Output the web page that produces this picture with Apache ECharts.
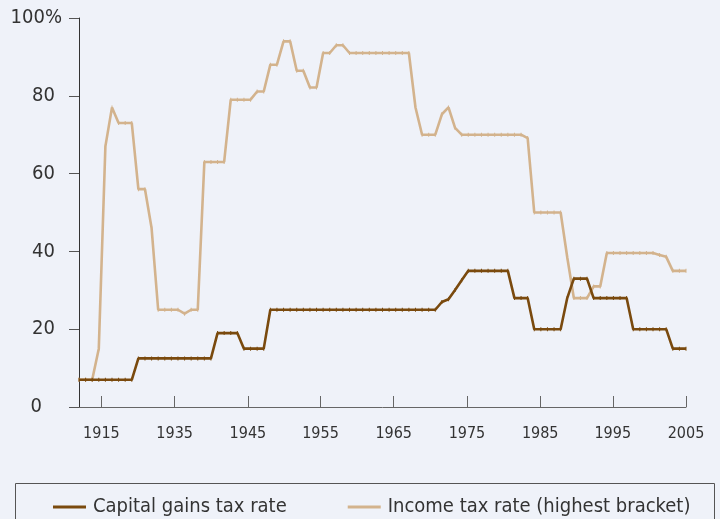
<!DOCTYPE html>
<html>
<head>
<meta charset="utf-8">
<script src="https://cdn.jsdelivr.net/npm/echarts@6/dist/echarts.min.js"></script>
<style>
html,body{margin:0;padding:0;background:#eff2f9;}
#chart{width:720px;height:519px;}
</style>
</head>
<body>
<div id="chart"></div>
<script>
var years = [];
for (var y = 1913; y <= 2005; y++) years.push(y);

var capitalGains = [
  7,7,7,7,7,7,7,7,7,
  12.5,12.5,12.5,12.5,12.5,12.5,12.5,12.5,12.5,12.5,12.5,12.5,
  19,19,19,19,
  15,15,15,15,
  25,25,25,25,25,25,25,25,25,25,25,25,25,25,25,25,25,25,25,25,25,25,25,25,25,25,
  27,27.7,30.1,32.6,
  35,35,35,35,35,35,35,
  28,28,28,
  20,20,20,20,20,
  28,33,33,33,
  28,28,28,28,28,28,
  20,20,20,20,20,20,
  15,15,15
];

var incomeTax = [
  7,7,7,15,67,77,73,73,73,56,56,46,
  25,25,25,25,24,25,25,
  63,63,63,63,
  79,79,79,79,
  81.1,81.1,88,88,94,94,86.45,86.45,82.13,82.13,91,91,93,93,
  91,91,91,91,91,91,91,91,91,91,
  77,70,70,70,75.25,77,71.75,
  70,70,70,70,70,70,70,70,70,70,
  69.13,
  50,50,50,50,50,
  38.5,28,28,28,31,31,
  39.6,39.6,39.6,39.6,39.6,39.6,39.6,39.6,
  39.1,38.6,35,35,35
];

var xTickLabels = ['1915','1935','1945','1955','1965','1975','1985','1995','2005'];
var xTickPositions = [1916.4,1927.5,1938.6,1949.6,1960.7,1971.8,1982.9,1993.9,2005];
var yTickLabels = ['0','20','40','60','80','100%'];

var FONT = '"DejaVu Sans Condensed","Liberation Sans Narrow",sans-serif';

function pairs(vals){
  return years.map(function(yr,i){ return [yr, vals[i]]; });
}

var chart = echarts.init(document.getElementById('chart'), null, {renderer:'canvas'});
chart.setOption({
  backgroundColor:'#eff2f9',
  animation:false,
  grid:{left:79, right:34, top:18, bottom:112},
  xAxis:{
    type:'value', min:1913, max:2005,
    splitLine:{show:false},
    axisLine:{show:true, lineStyle:{color:'#666', width:1}},
    axisTick:{show:true, inside:true, length:11, lineStyle:{color:'#666'}, customValues:xTickPositions},
    axisLabel:{
      customValues:xTickPositions,
      margin:19, fontSize:16, color:'#333', fontFamily:FONT,
      formatter:function(v){
        var best=0, d=1e9;
        for (var i=0;i<xTickPositions.length;i++){ var dd=Math.abs(xTickPositions[i]-v); if(dd<d){d=dd;best=i;} }
        return xTickLabels[best];
      }
    }
  },
  yAxis:{
    type:'value', min:0, max:100, interval:20,
    splitLine:{show:false},
    axisLine:{show:true, lineStyle:{color:'#333', width:1}},
    axisTick:{show:true, inside:false, length:10, lineStyle:{color:'#555'}},
    axisLabel:{
      margin:17, fontSize:20, color:'#333', fontFamily:FONT,
      formatter:function(v){
        var lbl = yTickLabels[Math.round(v/20)];
        if (v===0) return '{z|'+lbl+'}';
        if (v===100) return '{h|'+lbl+'}';
        return '{m|'+lbl+'}';
      },
      rich:{
        z:{fontSize:20, color:'#333', fontFamily:FONT, padding:[0,20,0,0]},
        m:{fontSize:20, color:'#333', fontFamily:FONT, padding:[0,7,0,0]},
        h:{fontSize:20, color:'#333', fontFamily:FONT, padding:[0,0,0,0]}
      }
    }
  },
  legend:{
    left:48, top:492, width:660,
    itemWidth:33, itemHeight:3, itemGap:61, icon:'rect',
    textStyle:{fontSize:20, color:'#333', fontFamily:FONT, padding:[0,0,0,2]},
    data:['Capital gains tax rate','Income tax rate (highest bracket)']
  },
  graphic:[{
    type:'rect', left:13, top:481,
    shape:{width:699, height:60},
    style:{fill:'none', stroke:'#555', lineWidth:1}
  }],
  series:[
    {
      name:'Income tax rate (highest bracket)', type:'line',
      data:pairs(incomeTax),
      symbol:'rect', symbolSize:[1,4], showSymbol:true,
      itemStyle:{color:'#d3b38d'},
      lineStyle:{color:'#d3b38d', width:2.6},
      z:2
    },
    {
      name:'Capital gains tax rate', type:'line',
      data:pairs(capitalGains),
      symbol:'rect', symbolSize:[1,4], showSymbol:true,
      itemStyle:{color:'#7a4a0e'},
      lineStyle:{color:'#7a4a0e', width:2.6},
      z:3
    }
  ]
});
</script>
</body>
</html>
